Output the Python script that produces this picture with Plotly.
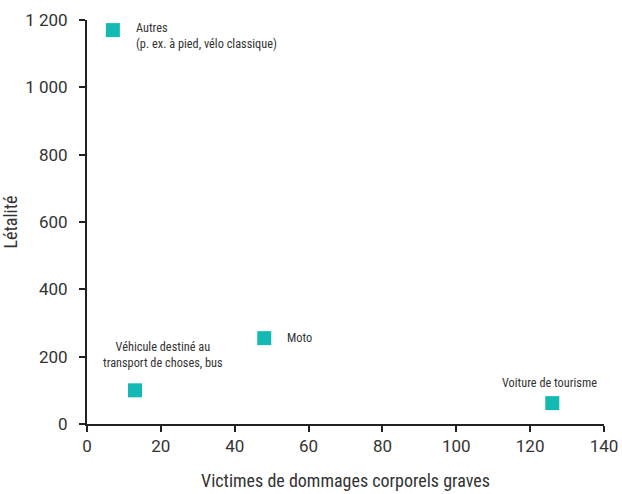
import plotly.graph_objects as go

categories = ["Autres<br>(p. ex. à pied, vélo classique)", "Véhicule destiné au<br>transport de choses, bus", "Moto", "Voiture de tourisme"]
victimes = [7, 13, 48, 126]
letalite = [1170, 100, 255, 62]

teal = "#13B9B2"
txt = "#333333"
font_main = "Liberation Sans Narrow, Roboto Condensed, Roboto, sans-serif"
font_ticks = "Roboto, sans-serif"

fig = go.Figure()
fig.add_trace(go.Scatter(
    x=victimes, y=letalite, mode="markers",
    marker=dict(symbol="square", size=14, color=teal),
    hoverinfo="skip", showlegend=False,
))

# label placements: (xanchor, yanchor, align, xshift, yshift)
placements = [
    ("left", "top", "left", 21, 11),
    ("center", "bottom", "center", 28, 18),
    ("left", "middle", "left", 21, 0),
    ("center", "bottom", "center", -3, 11),
]
for cat, xv, yv, (xa, ya, al, xs, ys) in zip(categories, victimes, letalite, placements):
    fig.add_annotation(
        x=xv, y=yv, xref="x", yref="y", text=cat, showarrow=False,
        xanchor=xa, yanchor=ya, align=al, xshift=xs, yshift=ys,
        font=dict(family=font_main, size=12.3, color=txt),
    )

axis_common = dict(
    showgrid=False, zeroline=False, showline=True, linecolor="#222222", linewidth=2,
    ticks="outside", ticklen=6, tickwidth=2, tickcolor="#222222",
    tickfont=dict(family=font_ticks, size=17, color=txt), automargin=False,
)
fig.update_xaxes(range=[0, 140], dtick=20, **axis_common,
                 title=dict(text="Victimes de dommages corporels graves",
                            font=dict(family=font_main, size=18, color=txt), standoff=19))
fig.update_yaxes(range=[0, 1200], dtick=200, separatethousands=True, ticklabelstandoff=8, **axis_common,
                 title=dict(text="Létalité", font=dict(family=font_main, size=18, color=txt), standoff=3))

fig.update_layout(
    width=622, height=494,
    margin=dict(l=87, r=18, t=20, b=70),
    plot_bgcolor="white", paper_bgcolor="white",
    separators=", ",
)
# remove the default page margin so the figure fills the window exactly
fig.write_html("out.html", config={"displayModeBar": False},
               post_script="document.body.style.margin='0';document.body.style.overflow='hidden';")
